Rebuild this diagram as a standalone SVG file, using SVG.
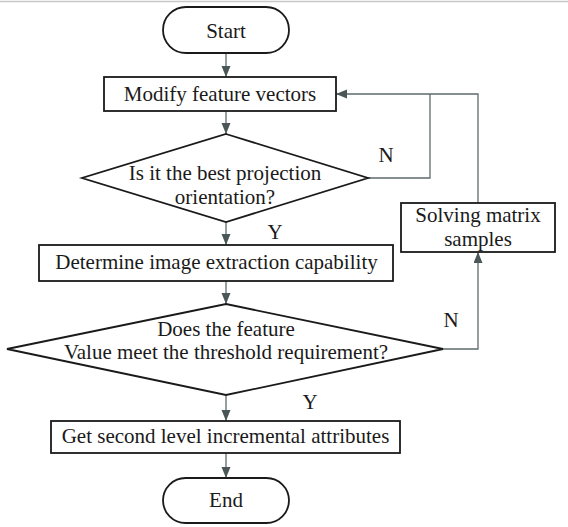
<svg xmlns="http://www.w3.org/2000/svg" width="568" height="527" viewBox="0 0 568 527">
<style>
.shape{fill:#ffffff;stroke:#1a1a1a;stroke-width:1.8}
.lbl{font-family:"Liberation Serif","Times New Roman",serif;font-size:21px;fill:#1a1a1a;text-anchor:middle}
.conn{fill:none;stroke:#5f6b6b;stroke-width:1.3}
</style>
<defs>
<marker id="arr" markerWidth="12" markerHeight="10" refX="11" refY="4.5" orient="auto" markerUnits="userSpaceOnUse">
<path d="M0,0 L11,4.5 L0,9 Z" fill="#4b5757"/>
</marker>
</defs>
<rect x="0" y="0" width="568" height="527" fill="#ffffff"/>
<line x1="0" y1="1.5" x2="568" y2="1.5" stroke="#c8c8c8" stroke-width="1.5"/>
<g id="connectors">
<line class="conn" x1="226" y1="53" x2="226" y2="77" marker-end="url(#arr)"/>
<line class="conn" x1="226" y1="111" x2="226" y2="134" marker-end="url(#arr)"/>
<line class="conn" x1="226" y1="222" x2="226" y2="245" marker-end="url(#arr)"/>
<line class="conn" x1="226" y1="281" x2="226" y2="304" marker-end="url(#arr)"/>
<line class="conn" x1="226" y1="395" x2="226" y2="421" marker-end="url(#arr)"/>
<line class="conn" x1="226" y1="453" x2="226" y2="478" marker-end="url(#arr)"/>
<polyline class="conn" points="368,178 430,178 430,94"/>
<polyline class="conn" points="443,349 478,349 478,252" marker-end="url(#arr)"/>
<polyline class="conn" points="478,203 478,94 336,94" marker-end="url(#arr)"/>
<text class="lbl" x="386" y="162">N</text>
<text class="lbl" x="275" y="239">Y</text>
<text class="lbl" x="451" y="327">N</text>
<text class="lbl" x="310" y="409">Y</text>
</g>
<g id="start">
<rect class="shape" x="163" y="7" width="126" height="46" rx="23" ry="23"/>
<text class="lbl" x="226" y="38">Start</text>
</g>
<g id="modify">
<rect class="shape" x="104" y="77" width="232" height="34"/>
<text class="lbl" x="220" y="101">Modify feature vectors</text>
</g>
<g id="decision1">
<polygon class="shape" points="226,134 368,178 226,222 82,178"/>
<text class="lbl" x="225" y="180">Is it the best projection</text>
<text class="lbl" x="225" y="203.5">orientation?</text>
</g>
<g id="determine">
<rect class="shape" x="39" y="245" width="354" height="36"/>
<text class="lbl" x="216.5" y="269">Determine image extraction capability</text>
</g>
<g id="solving">
<rect class="shape" x="401" y="203" width="154" height="49"/>
<text class="lbl" x="478" y="222">Solving matrix</text>
<text class="lbl" x="478" y="245.5">samples</text>
</g>
<g id="decision2">
<polygon class="shape" points="226,304 443,349 226,395 7,349"/>
<text class="lbl" x="226" y="335.5">Does the feature</text>
<text class="lbl" x="226" y="359">Value meet the threshold requirement?</text>
</g>
<g id="get">
<rect class="shape" x="51" y="421" width="349" height="32"/>
<text class="lbl" x="225.5" y="443">Get second level incremental attributes</text>
</g>
<g id="end">
<rect class="shape" x="163" y="478" width="126" height="45" rx="22.5" ry="22.5"/>
<text class="lbl" x="226" y="507">End</text>
</g>
</svg>
